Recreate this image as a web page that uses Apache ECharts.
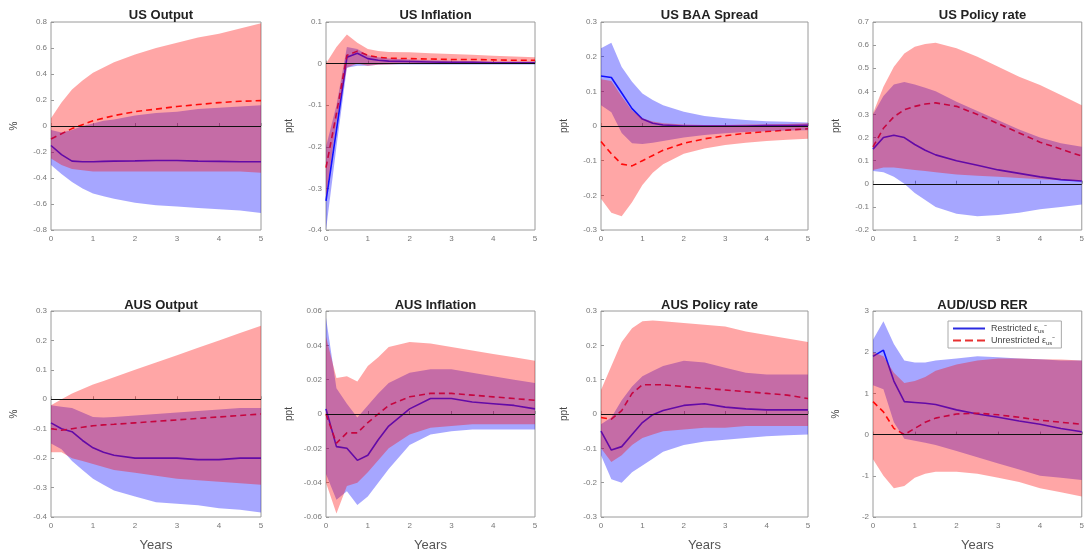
<!DOCTYPE html>
<html>
<head>
<meta charset="utf-8">
<script src="https://cdn.jsdelivr.net/npm/echarts@6/dist/echarts.min.js"></script>
<style>
  html, body { margin: 0; padding: 0; background: #fff; }
  #main { width: 1087px; height: 553px; }
</style>
</head>
<body>
<div id="main"></div>
<script>
// horizon in years (quarterly early on, half-yearly later)
const years = [0, 0.25, 0.5, 0.75, 1, 1.25, 1.5, 2, 2.5, 3, 3.5, 4, 4.5, 5];

// US Output
const usOutSolid  = [-0.15, -0.22, -0.27, -0.275, -0.275, -0.272, -0.27, -0.268, -0.265, -0.265, -0.27, -0.272, -0.275, -0.275];
const usOutDashed = [-0.1, -0.06, -0.02, 0.01, 0.04, 0.06, 0.08, 0.11, 0.13, 0.15, 0.165, 0.18, 0.19, 0.195];
const usOutBlueLo = [-0.3, -0.37, -0.43, -0.48, -0.52, -0.54, -0.56, -0.59, -0.61, -0.62, -0.63, -0.64, -0.65, -0.67];
const usOutBlueHi = [-0.03, -0.05, -0.03, 0.0, 0.02, 0.04, 0.05, 0.08, 0.1, 0.11, 0.13, 0.14, 0.15, 0.16];
const usOutRedLo  = [-0.25, -0.3, -0.33, -0.34, -0.35, -0.35, -0.35, -0.35, -0.35, -0.35, -0.35, -0.35, -0.35, -0.36];
const usOutRedHi  = [0.06, 0.18, 0.28, 0.35, 0.41, 0.45, 0.49, 0.55, 0.6, 0.64, 0.68, 0.71, 0.75, 0.79];

// US Inflation
const usInfSolid  = [-0.33, -0.16, 0.015, 0.025, 0.012, 0.008, 0.006, 0.005, 0.004, 0.003, 0.003, 0.002, 0.002, 0.002];
const usInfDashed = [-0.25, -0.12, 0.02, 0.03, 0.02, 0.015, 0.013, 0.012, 0.011, 0.01, 0.01, 0.009, 0.008, 0.008];
const usInfBlueLo = [-0.4, -0.2, -0.01, -0.005, -0.005, -0.003, -0.002, -0.002, -0.002, -0.002, -0.002, -0.002, -0.002, -0.002];
const usInfBlueHi = [-0.2, -0.1, 0.04, 0.035, 0.02, 0.015, 0.012, 0.01, 0.008, 0.007, 0.006, 0.005, 0.005, 0.005];
const usInfRedLo  = [-0.32, -0.14, -0.01, 0.0, -0.005, -0.003, -0.002, 0.0, 0.0, 0.0, 0.0, 0.0, 0.0, 0.0];
const usInfRedHi  = [0.0, 0.04, 0.07, 0.05, 0.035, 0.03, 0.028, 0.027, 0.025, 0.023, 0.021, 0.019, 0.017, 0.015];

// US BAA Spread
const usBaaSolid  = [0.144, 0.14, 0.095, 0.05, 0.02, 0.008, 0.003, 0.0, 0.0, 0.0, 0.0, 0.001, 0.001, 0.002];
const usBaaDashed = [-0.045, -0.08, -0.11, -0.115, -0.1, -0.085, -0.07, -0.05, -0.037, -0.028, -0.021, -0.016, -0.012, -0.008];
const usBaaBlueLo = [0.06, 0.04, -0.02, -0.05, -0.052, -0.048, -0.043, -0.033, -0.026, -0.021, -0.017, -0.015, -0.013, -0.012];
const usBaaBlueHi = [0.224, 0.24, 0.17, 0.128, 0.094, 0.075, 0.06, 0.041, 0.029, 0.022, 0.017, 0.014, 0.012, 0.01];
const usBaaRedLo  = [-0.21, -0.25, -0.26, -0.22, -0.17, -0.135, -0.11, -0.08, -0.065, -0.055, -0.048, -0.043, -0.04, -0.037];
const usBaaRedHi  = [0.135, 0.13, 0.085, 0.045, 0.022, 0.013, 0.008, 0.004, 0.003, 0.003, 0.004, 0.005, 0.006, 0.008];

// US Policy rate
const usPolSolid  = [0.15, 0.2, 0.21, 0.2, 0.17, 0.145, 0.125, 0.1, 0.08, 0.06, 0.045, 0.03, 0.018, 0.012];
const usPolDashed = [0.16, 0.24, 0.29, 0.32, 0.335, 0.345, 0.35, 0.335, 0.3, 0.26, 0.22, 0.18, 0.15, 0.12];
const usPolBlueLo = [0.055, 0.05, 0.03, 0.0, -0.04, -0.07, -0.1, -0.13, -0.14, -0.135, -0.125, -0.11, -0.1, -0.09];
const usPolBlueHi = [0.3, 0.38, 0.43, 0.44, 0.43, 0.415, 0.4, 0.355, 0.315, 0.275, 0.235, 0.2, 0.175, 0.16];
const usPolRedLo  = [0.06, 0.07, 0.07, 0.065, 0.06, 0.055, 0.05, 0.04, 0.035, 0.03, 0.025, 0.02, 0.015, 0.01];
const usPolRedHi  = [0.305, 0.42, 0.506, 0.564, 0.593, 0.605, 0.61, 0.586, 0.55, 0.506, 0.463, 0.427, 0.384, 0.34];

// AUS Output
const auOutSolid  = [-0.08, -0.1, -0.11, -0.14, -0.165, -0.18, -0.19, -0.2, -0.2, -0.2, -0.205, -0.205, -0.2, -0.2];
const auOutDashed = [-0.1, -0.105, -0.1, -0.095, -0.09, -0.087, -0.085, -0.08, -0.075, -0.07, -0.065, -0.06, -0.055, -0.05];
const auOutBlueLo = [-0.15, -0.17, -0.21, -0.24, -0.27, -0.29, -0.31, -0.33, -0.35, -0.355, -0.36, -0.37, -0.375, -0.385];
const auOutBlueHi = [-0.02, -0.025, -0.03, -0.045, -0.06, -0.062, -0.06, -0.055, -0.05, -0.045, -0.04, -0.035, -0.03, -0.03];
const auOutRedLo  = [-0.18, -0.18, -0.2, -0.21, -0.22, -0.23, -0.24, -0.25, -0.26, -0.27, -0.275, -0.28, -0.285, -0.29];
const auOutRedHi  = [-0.02, 0.0, 0.02, 0.035, 0.05, 0.062, 0.075, 0.1, 0.125, 0.15, 0.175, 0.2, 0.225, 0.25];

// AUS Inflation
const auInfSolid  = [0.003, -0.019, -0.02, -0.027, -0.024, -0.015, -0.007, 0.003, 0.009, 0.009, 0.007, 0.006, 0.005, 0.003];
const auInfDashed = [0.0, -0.017, -0.011, -0.011, -0.005, 0.0, 0.005, 0.01, 0.012, 0.012, 0.011, 0.01, 0.009, 0.008];
const auInfBlueLo = [-0.035, -0.05, -0.045, -0.053, -0.048, -0.04, -0.032, -0.018, -0.012, -0.01, -0.009, -0.009, -0.009, -0.009];
const auInfBlueHi = [0.056, 0.015, 0.006, -0.002, 0.005, 0.012, 0.018, 0.024, 0.026, 0.026, 0.024, 0.022, 0.02, 0.018];
const auInfRedLo  = [-0.04, -0.058, -0.042, -0.04, -0.034, -0.027, -0.02, -0.012, -0.008, -0.007, -0.006, -0.006, -0.006, -0.006];
const auInfRedHi  = [0.045, 0.021, 0.022, 0.019, 0.028, 0.033, 0.039, 0.042, 0.041, 0.039, 0.037, 0.035, 0.033, 0.031];

// AUS Policy rate
const auPolSolid  = [-0.05, -0.105, -0.095, -0.06, -0.025, -0.002, 0.01, 0.025, 0.03, 0.02, 0.015, 0.012, 0.012, 0.012];
const auPolDashed = [-0.01, -0.015, 0.01, 0.06, 0.085, 0.085, 0.085, 0.08, 0.075, 0.07, 0.065, 0.06, 0.055, 0.045];
const auPolBlueLo = [-0.12, -0.19, -0.2, -0.17, -0.15, -0.13, -0.11, -0.09, -0.08, -0.075, -0.07, -0.065, -0.062, -0.06];
const auPolBlueHi = [-0.03, -0.01, 0.04, 0.08, 0.11, 0.125, 0.14, 0.155, 0.15, 0.135, 0.12, 0.115, 0.115, 0.115];
const auPolRedLo  = [-0.1, -0.14, -0.12, -0.09, -0.07, -0.06, -0.05, -0.045, -0.04, -0.04, -0.035, -0.035, -0.035, -0.035];
const auPolRedHi  = [0.07, 0.14, 0.21, 0.25, 0.27, 0.272, 0.27, 0.265, 0.26, 0.255, 0.24, 0.23, 0.22, 0.21];

// AUD/USD RER
const rerSolid  = [1.9, 2.05, 1.3, 0.8, 0.78, 0.76, 0.73, 0.6, 0.5, 0.42, 0.33, 0.25, 0.15, 0.07];
const rerDashed = [0.8, 0.55, 0.15, 0.0, 0.15, 0.3, 0.4, 0.5, 0.52, 0.48, 0.42, 0.35, 0.3, 0.25];
const rerBlueLo = [1.2, 1.1, 0.3, -0.1, -0.15, -0.2, -0.25, -0.4, -0.55, -0.7, -0.85, -1.0, -1.05, -1.1];
const rerBlueHi = [2.3, 2.75, 2.2, 1.8, 1.75, 1.75, 1.8, 1.85, 1.9, 1.88, 1.85, 1.83, 1.8, 1.8];
const rerRedLo  = [-0.6, -1.0, -1.3, -1.25, -1.05, -0.95, -0.9, -0.9, -0.95, -1.05, -1.15, -1.3, -1.4, -1.5];
const rerRedHi  = [2.0, 1.9, 1.5, 1.25, 1.3, 1.4, 1.55, 1.7, 1.8, 1.85, 1.85, 1.83, 1.82, 1.8];

const titles = ['US Output', 'US Inflation', 'US BAA Spread', 'US Policy rate',
                'AUS Output', 'AUS Inflation', 'AUS Policy rate', 'AUD/USD RER'];
const units = ['%', 'ppt', 'ppt', 'ppt', '%', 'ppt', 'ppt', '%'];
const yMin = [-0.8, -0.4, -0.3, -0.2, -0.4, -0.06, -0.3, -2];
const yMax = [0.8, 0.1, 0.3, 0.7, 0.3, 0.06, 0.3, 3];
const yStep = [0.2, 0.1, 0.1, 0.1, 0.1, 0.02, 0.1, 1];

const panels = [
  [usOutSolid, usOutDashed, usOutBlueLo, usOutBlueHi, usOutRedLo, usOutRedHi],
  [usInfSolid, usInfDashed, usInfBlueLo, usInfBlueHi, usInfRedLo, usInfRedHi],
  [usBaaSolid, usBaaDashed, usBaaBlueLo, usBaaBlueHi, usBaaRedLo, usBaaRedHi],
  [usPolSolid, usPolDashed, usPolBlueLo, usPolBlueHi, usPolRedLo, usPolRedHi],
  [auOutSolid, auOutDashed, auOutBlueLo, auOutBlueHi, auOutRedLo, auOutRedHi],
  [auInfSolid, auInfDashed, auInfBlueLo, auInfBlueHi, auInfRedLo, auInfRedHi],
  [auPolSolid, auPolDashed, auPolBlueLo, auPolBlueHi, auPolRedLo, auPolRedHi],
  [rerSolid, rerDashed, rerBlueLo, rerBlueHi, rerRedLo, rerRedHi],
];

const lefts = [51, 326, 601, 873];
const widths = [210, 209, 207, 209];
const tops = [22, 311];
const heights = [208, 207];
const FONT = 'Liberation Sans, Arial';

const pair = arr => arr.map((v, i) => [years[i], v]);

// confidence band: one polygon through the upper bound, back along the lower
function bandSeries(k, lo, hi, color) {
  return {
    type: 'custom', xAxisIndex: k, yAxisIndex: k, silent: true, z: 3,
    data: years.map((x, i) => [x, lo[i], hi[i]]),
    encode: { x: 0, y: [1, 2] },
    renderItem: (params, api) => {
      if (params.dataIndex !== 0) return null;
      const pts = [];
      years.forEach((x, i) => pts.push(api.coord([x, hi[i]])));
      for (let i = years.length - 1; i >= 0; i--) pts.push(api.coord([years[i], lo[i]]));
      return { type: 'polygon', shape: { points: pts }, style: { fill: color } };
    }
  };
}

const chart = echarts.init(document.getElementById('main'));

let grid = [], xAxis = [], yAxis = [], title = [], series = [];
panels.forEach((p, k) => {
  const col = k % 4, row = Math.floor(k / 4);
  grid.push({
    left: lefts[col], top: tops[row], width: widths[col], height: heights[row],
    show: true, borderColor: '#9a9a9a', borderWidth: 1, backgroundColor: 'transparent'
  });
  title.push({
    text: titles[k],
    left: lefts[col] + widths[col] / 2, top: row ? 294 : 4, textAlign: 'center',
    textStyle: { fontFamily: FONT, fontWeight: 'bold', fontSize: 13, color: '#222' }
  });
  xAxis.push({
    gridIndex: k, type: 'value', min: 0, max: 5, interval: 1,
    name: row ? 'Years' : '', nameLocation: 'middle', nameGap: 22,
    nameTextStyle: { fontFamily: FONT, fontSize: 13, color: '#555' },
    axisLine: { show: false },
    axisTick: { show: true, inside: true, length: 3, lineStyle: { color: '#999' } },
    axisLabel: { fontSize: 8, color: '#777', margin: 5, fontFamily: FONT },
    splitLine: { show: false }
  });
  yAxis.push({
    gridIndex: k, type: 'value', min: yMin[k], max: yMax[k], interval: yStep[k],
    name: units[k], nameLocation: 'middle', nameGap: 32,
    nameTextStyle: { fontFamily: FONT, fontSize: 10, color: '#444' },
    axisLine: { show: false },
    axisTick: { show: true, inside: true, length: 3, lineStyle: { color: '#999' } },
    axisLabel: {
      fontSize: 8, color: '#777', margin: 4, fontFamily: FONT,
      formatter: v => +v.toFixed(2) + ''
    },
    splitLine: { show: false }
  });
  const [solid, dashed, bLo, bHi, rLo, rHi] = p;
  // lines sit under the translucent bands, as in the original figure
  series.push({
    name: 'Restricted', type: 'line', xAxisIndex: k, yAxisIndex: k, z: 1,
    data: pair(solid), symbol: 'none', silent: true,
    lineStyle: { color: '#1a1aff', width: 1.6 }, itemStyle: { color: '#1a1aff' },
    markLine: {
      silent: true, symbol: 'none', label: { show: false },
      lineStyle: { color: '#111', width: 1, type: 'solid' },
      data: [{ yAxis: 0 }]
    }
  });
  series.push({
    name: 'Unrestricted', type: 'line', xAxisIndex: k, yAxisIndex: k, z: 1,
    data: pair(dashed), symbol: 'none', silent: true,
    lineStyle: { color: '#ff1010', width: 1.6, type: [6, 4] }, itemStyle: { color: '#ff1010' }
  });
  series.push(bandSeries(k, bLo, bHi, 'rgba(0,0,255,0.35)'));
  series.push(bandSeries(k, rLo, rHi, 'rgba(255,0,0,0.35)'));
});

chart.setOption({
  animation: false,
  backgroundColor: '#fff',
  title: title,
  grid: grid,
  xAxis: xAxis,
  yAxis: yAxis,
  legend: {
    data: [
      { name: 'Restricted', icon: 'path://M0,0H32V2H0Z', itemStyle: { color: '#2a2ae0' } },
      { name: 'Unrestricted', icon: 'path://M0,0H8V2H0Z M12,0H20V2H12Z M24,0H32V2H24Z', itemStyle: { color: '#e83030' } }
    ],
    orient: 'vertical', left: 948, top: 321, z: 10,
    padding: [3, 6, 2, 5], itemGap: 2, itemWidth: 34, itemHeight: 2,
    backgroundColor: '#fff', borderColor: '#aaa', borderWidth: 1,
    textStyle: {
      fontSize: 9, color: '#444', fontFamily: FONT,
      rich: { s: { fontSize: 6, color: '#444', padding: [5, 0, 0, 0] } }
    },
    formatter: n => n + ' ε{s|us}⁻'
  },
  series: series
});
</script>
</body>
</html>
